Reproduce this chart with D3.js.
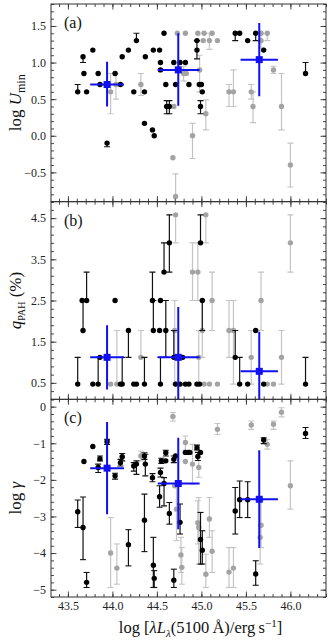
<!DOCTYPE html>
<html><head><meta charset="utf-8">
<script src="https://cdn.jsdelivr.net/npm/d3@7"></script>
<style>body{margin:0;background:#fff}svg{display:block}</style>
</head><body>
<script>
// ---------- data ----------
const xTickValues = [43.5, 44.0, 44.5, 45.0, 45.5, 46.0];
const uminTicks = [-0.5, 0.0, 0.5, 1.0, 1.5];
const qpahTicks = [0.5, 1.5, 2.5, 3.5, 4.5];
const gammaTicks = [-5, -4, -3, -2, -1, 0];

// [logL, value, lowEnd, highEnd] (ends omitted = no error bar)
const uminBlack = [
 [43.61,0.60,0.60,0.70],[43.67,1.08,1.00,1.08],[43.68,0.85],[43.71,0.60],[43.78,1.17],
 [43.84,0.85],[43.86,0.70],[43.94,-0.10,-0.15,-0.10],[44.03,0.85],[44.09,0.70],
 [44.11,1.08],[44.18,1.17],[44.24,0.60],[44.27,1.30,1.30,1.40],[44.36,0.17],
 [44.36,0.60],[44.37,1.08],[44.45,0.08],[44.47,0.00],[44.46,1.17],[44.53,1.17],
 [44.54,1.00],[44.54,0.90],[44.58,1.40],[44.60,0.70],[44.61,0.40,0.30,0.48],
 [44.64,0.40,0.30,0.48],[44.69,1.00],[44.71,0.70],[44.76,1.00],[44.82,1.00],
 [44.86,0.70],[44.95,1.30],[44.95,1.17,1.05,1.30],[44.98,0.70],[45.00,0.70],
 [45.01,0.60],[44.99,0.40,0.30,0.48],[45.38,1.40,1.30,1.40],[45.43,1.40],
 [45.52,1.30],[45.61,1.40,1.30,1.40],[45.70,1.17],[46.17,0.85,0.85,1.00]
];
const uminGrey = [
 [43.98,0.60,0.30,0.85],[44.04,0.70,0.50,0.85],[44.32,0.70,0.55,0.85],[44.68,-0.30],
 [44.71,-0.83,-0.95,-0.52],[44.69,0.40],[44.73,1.40],[44.82,1.40],[44.80,0.85,0.75,0.95],
 [44.83,0.85],[44.90,0.00,-0.31,0.17],[44.96,1.40],[44.98,0.90,0.60,1.10],[44.97,0.70],
 [45.03,1.40],[45.02,1.30],[45.05,0.30,0.08,0.49],[45.09,1.30,1.18,1.40],[45.12,1.40],
 [45.18,1.30],[45.31,0.60,0.40,0.70],[45.36,0.60,0.40,0.90],[45.56,0.60,0.50,0.70],
 [45.58,0.40,0.18,0.60],[45.67,1.40],[45.67,1.30,1.20,1.40],[45.74,1.40,1.30,1.40],
 [45.81,0.90,0.85,0.95],[45.90,0.40,0.08,0.85],[46.00,-0.40,-0.70,-0.10]
];
// [logL, lowL, highL, value, lowV, highV]
const uminBlue = [
 [43.94,43.75,44.13,0.70,0.40,1.01],[44.74,44.51,44.98,0.90,0.41,1.40],[45.65,45.44,45.86,1.04,0.54,1.54]
];

const qpahBlack = [
 [43.61,0.47,0.47,1.12],[43.66,2.50],[43.67,1.77,1.77,2.50],[43.71,2.50,2.50,3.19],
 [43.78,0.47],[43.84,0.47,0.47,1.12],[43.86,1.12],[44.03,2.50],[44.09,0.47],
 [44.11,0.47,0.47,1.12],[44.18,1.77,1.12,1.77],[44.24,0.47],[44.27,0.47],
 [44.36,0.47,0.47,1.12],[44.45,2.50,2.50,3.19],[44.46,1.77,1.77,2.50],[44.53,1.77],
 [44.54,2.50],[44.54,0.47,0.47,1.12],[44.58,3.19,3.19,3.90],[44.60,1.77,1.12,2.50],
 [44.64,3.90,3.19,4.58],[44.69,1.12,1.12,1.77],[44.71,0.47],[44.76,0.47],[44.79,1.12],
 [44.82,0.47],[44.86,0.47],[44.95,0.47],[44.98,0.47],[44.99,3.90,3.90,4.58],
 [45.01,2.50,1.77,2.50],[45.38,1.12,1.12,1.77],[45.43,0.47,0.47,1.12],[45.52,0.47],
 [45.61,1.77],[45.70,0.47],[46.17,0.47,0.47,1.12]
];
const qpahGrey = [
 [43.98,0.47],[44.05,0.47,0.47,1.77],[44.32,1.12,1.12,1.77],[44.71,4.58,3.90,4.58],
 [44.70,1.77,0.47,2.50],[44.71,0.47],[44.90,3.19,2.50,3.90],[44.96,3.19,2.50,3.90],
 [44.97,1.12,0.47,1.77],[45.01,1.77,1.12,2.50],[45.05,4.58,3.90,4.58],[45.03,0.47],
 [45.09,0.47],[45.18,0.47],[45.12,2.50,1.77,3.19],[45.31,1.77,1.12,2.50],
 [45.36,1.77,0.47,2.50],[45.56,1.12,0.47,1.77],[45.67,2.50,1.77,3.19],[45.74,0.47],
 [45.81,0.47],[45.90,1.12,0.47,1.77],[46.00,3.90,3.19,4.58]
];
const qpahBlue = [
 [43.94,43.75,44.13,1.12,0.34,1.90],[44.74,44.51,44.98,1.12,-0.5,2.34],[45.65,45.44,45.86,0.78,-0.5,1.74]
];

const gammaBlack = [
 [43.61,-2.87,-3.30,-2.55],[43.67,-3.30,-4.18,-2.47],[43.71,-4.80,-4.94,-4.53],[43.68,-1.50],
 [43.78,-1.09],[43.84,-1.66,-1.80,-1.57],[43.86,-1.42,-1.48,-1.35],[43.94,-0.95,-1.03,-0.89],
 [44.03,-1.89,-1.98,-1.82],[44.09,-1.53,-1.62,-1.44],[44.11,-1.37,-1.48,-1.28],
 [44.18,-3.77,-4.35,-3.36],[44.24,-1.62,-1.76,-1.53],[44.27,-1.57,-1.85,-1.48],
 [44.36,-1.35,-1.44,-1.26],[44.36,-3.10,-3.96,-2.39],[44.37,-1.57,-1.89,-1.30],
 [44.45,-1.94,-2.05,-1.83],[44.46,-4.33,-4.94,-3.57],[44.47,-4.69,-4.94,-4.48],
 [44.53,-2.46,-2.75,-2.16],[44.54,-1.80,-1.92,-1.68],[44.55,-1.48,-1.55,-1.41],
 [44.58,-2.10,-2.71,-1.94],[44.60,-1.26,-1.35,-1.19],[44.60,-1.48],[44.64,-2.92,-3.21,-2.62],
 [44.69,-1.44,-1.53,-1.35],[44.69,-4.74,-4.94,-4.44],[44.71,-1.35],[44.76,-3.16,-3.48,-2.66],
 [44.82,-1.25],[44.85,-1.25],[44.87,-1.25],[44.95,-1.12,-1.18,-1.05],[44.96,-1.36,-1.47,-1.25],
 [44.99,-1.25],[44.99,-3.63,-4.30,-2.89],[45.01,-3.92,-4.30,-3.39],[45.38,-2.85,-3.48,-2.21],
 [45.43,-2.54,-3.03,-2.03],[45.52,-2.54,-3.03,-2.05],[45.61,-4.57,-4.88,-4.21],
 [45.70,-0.91,-1.01,-0.85],[46.17,-0.73,-0.87,-0.57]
];
const gammaGrey = [
 [43.98,-4.00,-4.94,-3.03],[44.05,-4.41,-4.85,-3.75],[44.32,-1.35,-1.48,-1.21],
 [44.68,-0.27,-0.39,-0.16],[44.70,-2.16],[44.72,-2.80,-3.66,-2.12],[44.77,-4.05,-4.53,-3.57],
 [44.78,-4.39,-4.85,-3.85],[44.82,-0.98,-1.19,-0.80],[44.82,-1.50],[44.90,-1.57,-2.12,-1.03],
 [44.96,-3.17,-3.75,-2.57],[44.97,-3.30,-4.30,-2.48],[44.97,-1.66,-1.93,-1.39],
 [45.05,-4.58,-4.94,-4.03],[45.09,-3.07,-3.57,-2.48],[45.12,-3.95,-4.53,-3.39],
 [45.18,-0.62,-0.76,-0.46],[45.31,-4.52,-4.94,-3.85],[45.36,-4.41,-4.94,-3.85],
 [45.56,-0.50,-0.62,-0.39],[45.66,-3.57,-4.30,-2.57],[45.67,-3.24,-3.85,-2.57],
 [45.74,-1.03,-1.16,-0.89],[45.81,-0.48,-0.62,-0.39],[45.90,-0.15,-0.28,-0.03],
 [46.00,-2.16,-2.80,-1.48]
];
const gammaBlue = [
 [43.94,43.75,44.13,-1.68,-2.94,-0.42],[44.74,44.51,44.98,-2.10,-3.35,-0.85],[45.65,45.44,45.86,-2.53,-3.86,-1.19]
];

// ---------- layout ----------
const W = 332, H = 641;
const L = 51, R = 326, T = 4, B = 597;
const ph = (B - T) / 3;
const FONT = "'Liberation Serif','DejaVu Serif',serif";

const svg = d3.select("body").append("svg").attr("width", W).attr("height", H);
const x = d3.scaleLinear().domain([43.31, 46.4]).range([L, R]);
const fmt = d => (d < 0 ? "\u2212" : "") + d3.format(".1f")(Math.abs(d));
const fmtInt = d => (d < 0 ? "\u2212" : "") + Math.abs(d);

const panels = [
  {key:"a", domain:[-0.9,1.8], ticks:uminTicks, minor:0.1, f:fmt, black:uminBlack, grey:uminGrey, blue:uminBlue},
  {key:"b", domain:[0.1,4.9], ticks:qpahTicks, minor:0.2, f:fmt, black:qpahBlack, grey:qpahGrey, blue:qpahBlue},
  {key:"c", domain:[-5.2,0.2], ticks:gammaTicks, minor:0.2, f:fmtInt, black:gammaBlack, grey:gammaGrey, blue:gammaBlue}
];

function minorTicks(anchor, step, lo, hi) {
  let s = anchor;
  while (s - step >= lo - 1e-9) s -= step;
  const out = [];
  for (let v = s; v <= hi + 1e-9; v += step) out.push(+v.toFixed(4));
  return out;
}

panels.forEach((p, i) => {
  const top = T + i * ph, bot = T + (i + 1) * ph;
  const y = d3.scaleLinear().domain(p.domain).range([bot, top]);
  const g = svg.append("g");
  const clipId = "clip" + p.key;
  svg.append("clipPath").attr("id", clipId).append("rect")
    .attr("x", L).attr("y", top).attr("width", R - L).attr("height", bot - top);
  const plot = g.append("g").attr("clip-path", `url(#${clipId})`);

  const xMinor = minorTicks(43.5, 0.1, x.domain()[0], x.domain()[1]);
  const yMinor = minorTicks(p.ticks[0], p.minor, p.domain[0], p.domain[1]);
  const mk = (axisFn, scale, vals, size, tr) => {
    const a = g.append("g").attr("transform", tr)
      .call(axisFn(scale).tickValues(vals).tickSize(size).tickFormat(""));
    a.select(".domain").remove();
    a.selectAll("line").attr("stroke", "#333").attr("stroke-width", 0.9);
  };
  mk(d3.axisTop, x, xMinor, 3, `translate(0,${bot})`);
  mk(d3.axisTop, x, xTickValues, 5.5, `translate(0,${bot})`);
  mk(d3.axisBottom, x, xMinor, 3, `translate(0,${top})`);
  mk(d3.axisBottom, x, xTickValues, 5.5, `translate(0,${top})`);
  mk(d3.axisRight, y, yMinor, 3, `translate(${L},0)`);
  mk(d3.axisRight, y, p.ticks, 5.5, `translate(${L},0)`);
  mk(d3.axisLeft, y, yMinor, 3, `translate(${R},0)`);
  mk(d3.axisLeft, y, p.ticks, 5.5, `translate(${R},0)`);

  const ya = g.append("g").attr("transform", `translate(${L},0)`)
    .call(d3.axisLeft(y).tickValues(p.ticks).tickSize(0).tickPadding(5).tickFormat(p.f));
  ya.attr("font-family", FONT);
  ya.select(".domain").remove();
  ya.selectAll("text").attr("font-family", FONT).attr("font-size", 12).attr("fill", "#222");

  if (i === 2) {
    const xa = g.append("g").attr("transform", `translate(0,${bot})`)
      .call(d3.axisBottom(x).tickValues(xTickValues).tickSize(0).tickPadding(4).tickFormat(d3.format(".1f")));
    xa.attr("font-family", FONT);
    xa.select(".domain").remove();
    xa.selectAll("text").attr("font-family", FONT).attr("font-size", 12).attr("fill", "#222");
  }

  const drawSet = (data, dotColor, barColor) => {
    data.forEach(d => {
      const [xv, yv, lo, hi] = d;
      if (lo !== undefined) {
        const cx = x(xv);
        plot.append("line").attr("x1", cx).attr("x2", cx).attr("y1", y(lo)).attr("y2", y(hi))
          .attr("stroke", barColor).attr("stroke-width", 1.2);
        [lo, hi].forEach(e => {
          if (Math.abs(e - yv) > 1e-9) {
            plot.append("line").attr("x1", cx - 3).attr("x2", cx + 3).attr("y1", y(e)).attr("y2", y(e))
              .attr("stroke", barColor).attr("stroke-width", 1.1);
          }
        });
      }
    });
    plot.selectAll(null).data(data).enter().append("circle")
      .attr("cx", d => x(d[0])).attr("cy", d => y(d[1])).attr("r", 2.7).attr("fill", dotColor);
  };
  drawSet(p.grey, "#a3a3a3", "#c4c4c4");
  drawSet(p.black, "#000", "#111");

  p.blue.forEach(d => {
    const [xv, xl, xh, yv, yl, yh] = d;
    plot.append("line").attr("x1", x(xl)).attr("x2", x(xh)).attr("y1", y(yv)).attr("y2", y(yv))
      .attr("stroke", "#1010f0").attr("stroke-width", 2);
    plot.append("line").attr("x1", x(xv)).attr("x2", x(xv)).attr("y1", y(yl)).attr("y2", y(yh))
      .attr("stroke", "#1010f0").attr("stroke-width", 2);
  });
  plot.selectAll(null).data(p.blue).enter().append("rect")
    .attr("x", d => x(d[0]) - 3.5).attr("y", d => y(d[3]) - 3.5)
    .attr("width", 7).attr("height", 7).attr("fill", "#1010f0");

  g.append("rect").attr("x", L).attr("y", top).attr("width", R - L).attr("height", bot - top)
    .attr("fill", "none").attr("stroke", "#333").attr("stroke-width", 1);

  g.append("text").attr("x", L + 13).attr("y", top + 24).text(`(${p.key})`)
    .attr("font-family", FONT).attr("font-size", 16).attr("fill", "#111");
});

// ---------- axis titles ----------
function ylabel(cy, parts) {
  const t = svg.append("text").attr("transform", `translate(21,${cy}) rotate(-90)`)
    .attr("text-anchor", "middle").attr("font-family", FONT).attr("font-size", 17).attr("fill", "#111");
  parts.forEach(p => {
    const s = t.append("tspan").text(p.t);
    if (p.i) s.attr("font-style", "italic");
    if (p.dy) s.attr("dy", p.dy);
    if (p.fs) s.attr("font-size", p.fs);
  });
  return t;
}
ylabel(T + ph / 2, [{t:"log "}, {t:"U", i:1}, {t:"min", dy:4, fs:12}]);
ylabel(T + ph * 1.5, [{t:"q", i:1}, {t:"PAH", dy:4, fs:10}, {t:" (%)", dy:-4}]);
ylabel(T + ph * 2.5, [{t:"log "}, {t:"\u03b3", i:1}]);

const xt = svg.append("text").attr("x", (L + R) / 2 + 12).attr("y", 633).attr("text-anchor", "middle")
  .attr("font-family", FONT).attr("font-size", 16.5).attr("fill", "#111");
[{t:"log ["}, {t:"\u03bbL", i:1}, {t:"\u03bb", i:1, dy:4, fs:11}, {t:"(5100\u2009\u00c5)/erg\u2009s", dy:-4},
 {t:"\u22121", dy:-6, fs:11}, {t:"]", dy:6}].forEach(p => {
  const s = xt.append("tspan").text(p.t);
  if (p.i) s.attr("font-style", "italic");
  if (p.dy) s.attr("dy", p.dy);
  if (p.fs) s.attr("font-size", p.fs);
});
</script>
</body></html>
